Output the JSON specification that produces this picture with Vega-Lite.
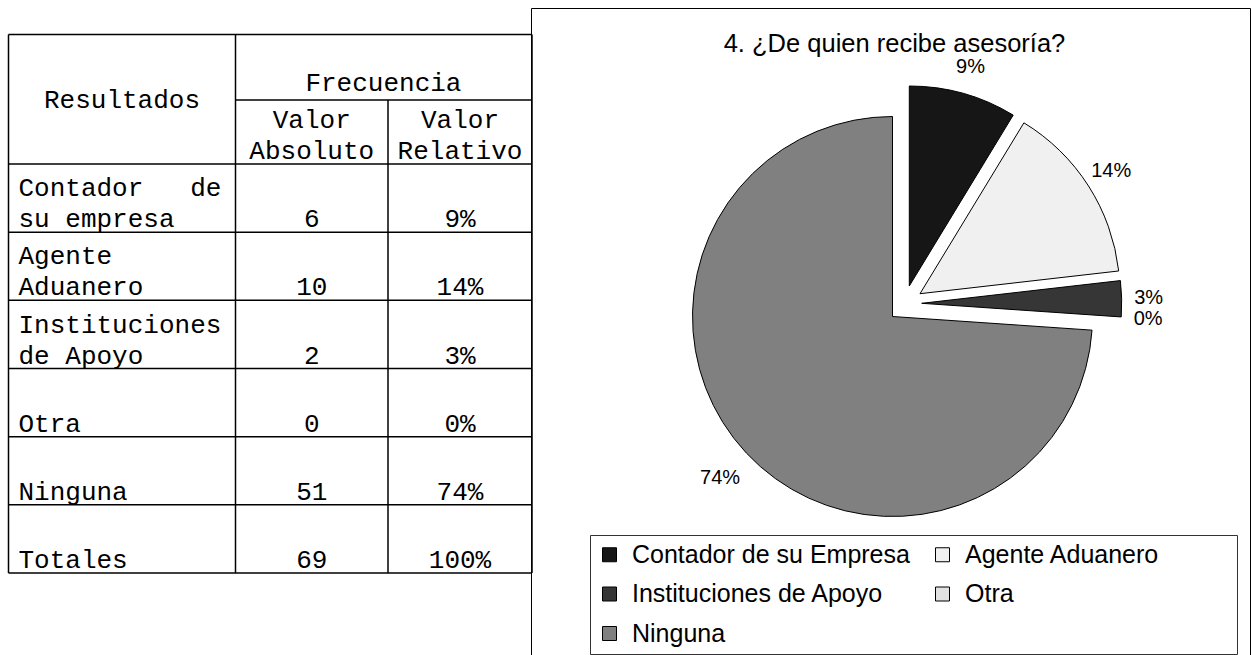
{
  "$schema": "https://vega.github.io/schema/vega-lite/v6.json",
  "padding": {"left": 0, "top": 7, "right": 0, "bottom": 0},
  "spacing": 0,
  "bounds": "flush",
  "background": "white",
  "datasets": {
    "tabla": [
      {"orden": 1, "Resultados": "Contador de su Empresa", "Etiqueta": "Contador\u00a0\u00a0\u00a0de\nsu\u00a0empresa", "Absoluto": 6, "Relativo": "9%"},
      {"orden": 2, "Resultados": "Agente Aduanero", "Etiqueta": "Agente\nAduanero", "Absoluto": 10, "Relativo": "14%"},
      {"orden": 3, "Resultados": "Instituciones de Apoyo", "Etiqueta": "Instituciones\nde\u00a0Apoyo", "Absoluto": 2, "Relativo": "3%"},
      {"orden": 4, "Resultados": "Otra", "Etiqueta": "\nOtra", "Absoluto": 0, "Relativo": "0%"},
      {"orden": 5, "Resultados": "Ninguna", "Etiqueta": "\nNinguna", "Absoluto": 51, "Relativo": "74%"},
      {"orden": 6, "Resultados": "Totales", "Etiqueta": "\nTotales", "Absoluto": 69, "Relativo": "100%"}
    ]
  },
  "hconcat": [
    {
      "width": 531,
      "height": 647,
      "view": {"stroke": null},
      "data": {"name": "tabla"},
      "layer": [
        {
          "mark": {"type": "rule", "color": "black", "strokeWidth": 1.5},
          "encoding": {
            "y": {"field": "orden", "type": "quantitative", "axis": null, "scale": {"domain": [-2, -1, 0, 6], "range": [26.5, 92, 156, 565], "nice": false, "zero": false}},
            "x": {"datum": 0, "type": "quantitative", "axis": null, "scale": {"domain": [0, 1, 2, 3], "range": [8.5, 235.5, 388, 532], "nice": false, "zero": false}},
            "x2": {"datum": 3}
          }
        },
        {
          "data": {"values": [{}]},
          "mark": {"type": "rule", "color": "black", "strokeWidth": 1.5},
          "encoding": {
            "y": {"datum": -2, "type": "quantitative", "axis": null, "scale": {"domain": [-2, -1, 0, 6], "range": [26.5, 92, 156, 565], "nice": false, "zero": false}},
            "x": {"datum": 0, "type": "quantitative", "axis": null, "scale": {"domain": [0, 1, 2, 3], "range": [8.5, 235.5, 388, 532], "nice": false, "zero": false}},
            "x2": {"datum": 3}
          }
        },
        {
          "data": {"values": [{}]},
          "mark": {"type": "rule", "color": "black", "strokeWidth": 1.5},
          "encoding": {
            "y": {"datum": -1, "type": "quantitative", "axis": null, "scale": {"domain": [-2, -1, 0, 6], "range": [26.5, 92, 156, 565], "nice": false, "zero": false}},
            "x": {"datum": 1, "type": "quantitative", "axis": null, "scale": {"domain": [0, 1, 2, 3], "range": [8.5, 235.5, 388, 532], "nice": false, "zero": false}},
            "x2": {"datum": 3}
          }
        },
        {
          "data": {"values": [{}]},
          "mark": {"type": "rule", "color": "black", "strokeWidth": 1.5},
          "encoding": {
            "y": {"datum": 0, "type": "quantitative", "axis": null, "scale": {"domain": [-2, -1, 0, 6], "range": [26.5, 92, 156, 565], "nice": false, "zero": false}},
            "x": {"datum": 0, "type": "quantitative", "axis": null, "scale": {"domain": [0, 1, 2, 3], "range": [8.5, 235.5, 388, 532], "nice": false, "zero": false}},
            "x2": {"datum": 3}
          }
        },
        {
          "data": {"values": [{}]},
          "mark": {"type": "rule", "color": "black", "strokeWidth": 1.5},
          "encoding": {
            "x": {"datum": 0, "type": "quantitative", "axis": null, "scale": {"domain": [0, 1, 2, 3], "range": [8.5, 235.5, 388, 532], "nice": false, "zero": false}},
            "y": {"datum": -2, "type": "quantitative", "axis": null, "scale": {"domain": [-2, -1, 0, 6], "range": [26.5, 92, 156, 565], "nice": false, "zero": false}},
            "y2": {"datum": 6}
          }
        },
        {
          "data": {"values": [{}]},
          "mark": {"type": "rule", "color": "black", "strokeWidth": 1.5},
          "encoding": {
            "x": {"datum": 1, "type": "quantitative", "axis": null, "scale": {"domain": [0, 1, 2, 3], "range": [8.5, 235.5, 388, 532], "nice": false, "zero": false}},
            "y": {"datum": -2, "type": "quantitative", "axis": null, "scale": {"domain": [-2, -1, 0, 6], "range": [26.5, 92, 156, 565], "nice": false, "zero": false}},
            "y2": {"datum": 6}
          }
        },
        {
          "data": {"values": [{}]},
          "mark": {"type": "rule", "color": "black", "strokeWidth": 1.5},
          "encoding": {
            "x": {"datum": 2, "type": "quantitative", "axis": null, "scale": {"domain": [0, 1, 2, 3], "range": [8.5, 235.5, 388, 532], "nice": false, "zero": false}},
            "y": {"datum": -1, "type": "quantitative", "axis": null, "scale": {"domain": [-2, -1, 0, 6], "range": [26.5, 92, 156, 565], "nice": false, "zero": false}},
            "y2": {"datum": 6}
          }
        },
        {
          "data": {"values": [{}]},
          "mark": {"type": "rule", "color": "black", "strokeWidth": 1.5},
          "encoding": {
            "x": {"datum": 3, "type": "quantitative", "axis": null, "scale": {"domain": [0, 1, 2, 3], "range": [8.5, 235.5, 388, 532], "nice": false, "zero": false}},
            "y": {"datum": -2, "type": "quantitative", "axis": null, "scale": {"domain": [-2, -1, 0, 6], "range": [26.5, 92, 156, 565], "nice": false, "zero": false}},
            "y2": {"datum": 6}
          }
        },
        {
          "data": {"values": [{}]},
          "mark": {"type": "text", "text": "Resultados", "font": "Liberation Mono", "fontSize": 26, "color": "black", "align": "center", "baseline": "middle"},
          "encoding": {
            "x": {"datum": 0.5, "type": "quantitative", "axis": null, "scale": {"domain": [0, 1, 2, 3], "range": [8.5, 235.5, 388, 532], "nice": false, "zero": false}},
            "y": {"datum": -1, "type": "quantitative", "axis": null, "scale": {"domain": [-2, -1, 0, 6], "range": [26.5, 92, 156, 565], "nice": false, "zero": false}}
          }
        },
        {
          "data": {"values": [{}]},
          "mark": {"type": "text", "text": "Frecuencia", "font": "Liberation Mono", "fontSize": 26, "color": "black", "align": "center", "baseline": "bottom", "dy": -4},
          "encoding": {
            "x": {"datum": 1.97, "type": "quantitative", "axis": null, "scale": {"domain": [0, 1, 2, 3], "range": [8.5, 235.5, 388, 532], "nice": false, "zero": false}},
            "y": {"datum": -1, "type": "quantitative", "axis": null, "scale": {"domain": [-2, -1, 0, 6], "range": [26.5, 92, 156, 565], "nice": false, "zero": false}}
          }
        },
        {
          "data": {"values": [{}]},
          "mark": {"type": "text", "text": "Valor\nAbsoluto", "lineBreak": "\n", "lineHeight": 31, "font": "Liberation Mono", "fontSize": 26, "color": "black", "align": "center", "baseline": "bottom", "dy": -31},
          "encoding": {
            "x": {"datum": 1.5, "type": "quantitative", "axis": null, "scale": {"domain": [0, 1, 2, 3], "range": [8.5, 235.5, 388, 532], "nice": false, "zero": false}},
            "y": {"datum": 0, "type": "quantitative", "axis": null, "scale": {"domain": [-2, -1, 0, 6], "range": [26.5, 92, 156, 565], "nice": false, "zero": false}}
          }
        },
        {
          "data": {"values": [{}]},
          "mark": {"type": "text", "text": "Valor\nRelativo", "lineBreak": "\n", "lineHeight": 31, "font": "Liberation Mono", "fontSize": 26, "color": "black", "align": "center", "baseline": "bottom", "dy": -31},
          "encoding": {
            "x": {"datum": 2.5, "type": "quantitative", "axis": null, "scale": {"domain": [0, 1, 2, 3], "range": [8.5, 235.5, 388, 532], "nice": false, "zero": false}},
            "y": {"datum": 0, "type": "quantitative", "axis": null, "scale": {"domain": [-2, -1, 0, 6], "range": [26.5, 92, 156, 565], "nice": false, "zero": false}}
          }
        },
        {
          "mark": {"type": "text", "lineBreak": "\n", "lineHeight": 31, "font": "Liberation Mono", "fontSize": 26, "color": "black", "align": "left", "baseline": "bottom", "dx": 10, "dy": -31},
          "encoding": {
            "x": {"datum": 0, "type": "quantitative", "axis": null, "scale": {"domain": [0, 1, 2, 3], "range": [8.5, 235.5, 388, 532], "nice": false, "zero": false}},
            "y": {"field": "orden", "type": "quantitative", "axis": null, "scale": {"domain": [-2, -1, 0, 6], "range": [26.5, 92, 156, 565], "nice": false, "zero": false}},
            "text": {"field": "Etiqueta", "type": "nominal"}
          }
        },
        {
          "mark": {"type": "text", "font": "Liberation Mono", "fontSize": 26, "color": "black", "align": "center", "baseline": "bottom"},
          "encoding": {
            "x": {"datum": 1.5, "type": "quantitative", "axis": null, "scale": {"domain": [0, 1, 2, 3], "range": [8.5, 235.5, 388, 532], "nice": false, "zero": false}},
            "y": {"field": "orden", "type": "quantitative", "axis": null, "scale": {"domain": [-2, -1, 0, 6], "range": [26.5, 92, 156, 565], "nice": false, "zero": false}},
            "text": {"field": "Absoluto", "type": "nominal"}
          }
        },
        {
          "mark": {"type": "text", "font": "Liberation Mono", "fontSize": 26, "color": "black", "align": "center", "baseline": "bottom"},
          "encoding": {
            "x": {"datum": 2.5, "type": "quantitative", "axis": null, "scale": {"domain": [0, 1, 2, 3], "range": [8.5, 235.5, 388, 532], "nice": false, "zero": false}},
            "y": {"field": "orden", "type": "quantitative", "axis": null, "scale": {"domain": [-2, -1, 0, 6], "range": [26.5, 92, 156, 565], "nice": false, "zero": false}},
            "text": {"field": "Relativo", "type": "nominal"}
          }
        }
      ]
    },
    {
      "width": 719,
      "height": 647,
      "view": {"stroke": "black", "strokeWidth": 1},
      "title": {"text": "4. ¿De quien recibe asesoría?", "font": "Liberation Sans", "fontSize": 25.5, "fontWeight": "normal", "color": "black", "anchor": "middle", "frame": "group", "orient": "top", "offset": -69, "baseline": "alphabetic", "dx": 4},
      "data": {"name": "tabla"},
      "transform": [{"filter": "datum.orden <= 5"}],
      "encoding": {
        "theta": {"field": "Absoluto", "type": "quantitative", "stack": true},
        "order": {"field": "orden", "type": "quantitative"},
        "color": {
          "field": "Resultados",
          "type": "nominal",
          "scale": {
            "domain": ["Contador de su Empresa", "Agente Aduanero", "Instituciones de Apoyo", "Otra", "Ninguna"],
            "range": ["#161616", "#f0f0f0", "#363636", "#e2e2e2", "#808080"]
          },
          "legend": {
            "orient": "none", "legendX": 590, "legendY": 527, "direction": "horizontal", "columns": 2, "title": null,
            "labelExpr": "datum.label === 'Agente Aduanero' ? datum.label + '\u00a0\u00a0\u00a0\u00a0\u00a0\u00a0\u00a0\u00a0\u00a0\u00a0\u200b' : datum.label",
            "symbolType": "square", "symbolSize": 196, "symbolStrokeColor": "black", "symbolStrokeWidth": 1, "symbolOpacity": 1,
            "labelFont": "Liberation Sans", "labelFontSize": 25, "labelColor": "black", "labelOffset": 10, "labelLimit": 600,
            "columnPadding": 20, "rowPadding": 13.5, "padding": 7, "strokeColor": "#333333", "fillColor": "white"
          }
        }
      },
      "layer": [
        {
          "mark": {"type": "arc", "radius": 200, "stroke": "black", "strokeWidth": 1, "xOffset": 2, "yOffset": -15},
          "encoding": {"opacity": {"condition": {"test": "datum['Resultados'] === 'Ninguna'", "value": 1}, "value": 0}}
        },
        {
          "mark": {"type": "arc", "radius": 200, "stroke": "black", "strokeWidth": 1, "xOffset": 18.8, "yOffset": -45.5},
          "encoding": {"opacity": {"condition": {"test": "datum['Resultados'] === 'Contador de su Empresa'", "value": 1}, "value": 0}}
        },
        {
          "mark": {"type": "arc", "radius": 200, "stroke": "black", "strokeWidth": 1, "xOffset": 29.5, "yOffset": -37.8},
          "encoding": {"opacity": {"condition": {"test": "datum['Resultados'] === 'Agente Aduanero'", "value": 1}, "value": 0}}
        },
        {
          "mark": {"type": "arc", "radius": 200, "stroke": "black", "strokeWidth": 1, "xOffset": 31.2, "yOffset": -28.2},
          "encoding": {"opacity": {"condition": {"test": "datum['Resultados'] === 'Instituciones de Apoyo'", "value": 1}, "value": 0}}
        },
        {
          "mark": {"type": "text", "radius": 236, "font": "Liberation Sans", "fontSize": 20, "xOffset": 2, "yOffset": -15},
          "encoding": {
            "text": {"field": "Relativo", "type": "nominal"},
            "color": {"value": "black"},
            "opacity": {"condition": {"test": "datum['Resultados'] === 'Ninguna'", "value": 1}, "value": 0}
          }
        },
        {
          "mark": {"type": "text", "radius": 227, "font": "Liberation Sans", "fontSize": 20, "xOffset": 18.8, "yOffset": -45.5},
          "encoding": {
            "text": {"field": "Relativo", "type": "nominal"},
            "color": {"value": "black"},
            "opacity": {"condition": {"test": "datum['Resultados'] === 'Contador de su Empresa'", "value": 1}, "value": 0}
          }
        },
        {
          "mark": {"type": "text", "radius": 227, "font": "Liberation Sans", "fontSize": 20, "xOffset": 29.5, "yOffset": -37.8},
          "encoding": {
            "text": {"field": "Relativo", "type": "nominal"},
            "color": {"value": "black"},
            "opacity": {"condition": {"test": "datum['Resultados'] === 'Agente Aduanero'", "value": 1}, "value": 0}
          }
        },
        {
          "mark": {"type": "text", "radius": 227, "font": "Liberation Sans", "fontSize": 20, "xOffset": 31.2, "yOffset": -28.2},
          "encoding": {
            "text": {"field": "Relativo", "type": "nominal"},
            "color": {"value": "black"},
            "opacity": {"condition": {"test": "datum['Resultados'] === 'Instituciones de Apoyo' || datum['Resultados'] === 'Otra'", "value": 1}, "value": 0}
          }
        }
      ]
    }
  ]
}
